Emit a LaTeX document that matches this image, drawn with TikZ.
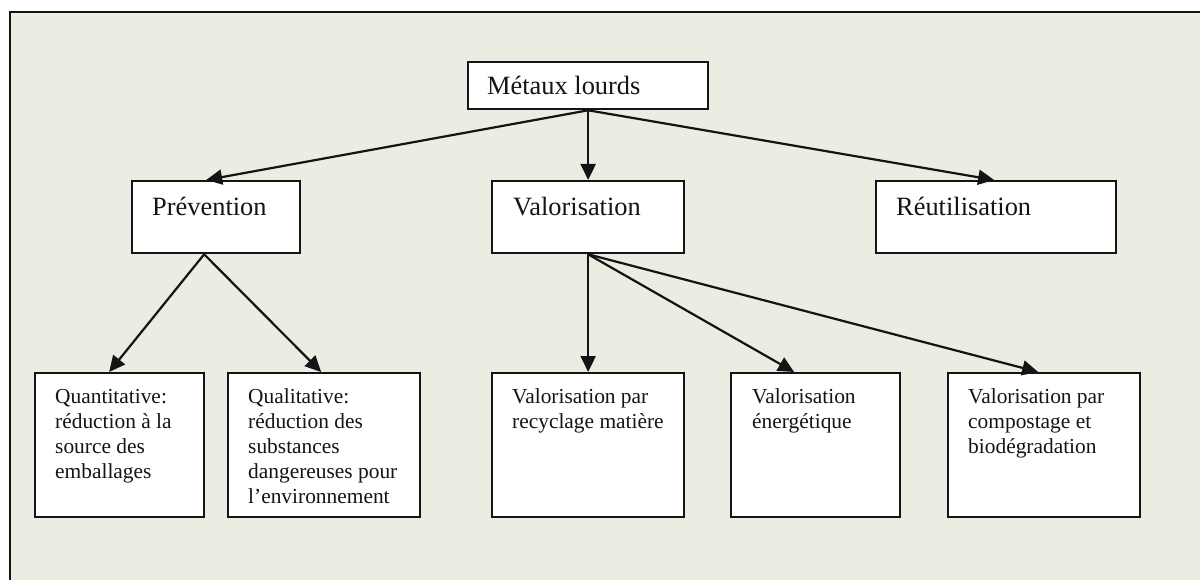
\documentclass[tikz,border=0pt]{standalone}
\usepackage{fontspec}
\setmainfont{Liberation Serif}
\usetikzlibrary{arrows.meta}
\definecolor{paper}{RGB}{236,236,226}
\definecolor{ink}{RGB}{20,20,20}
\begin{document}
\begin{tikzpicture}[x=1pt,y=-1pt,
  box/.style={draw=ink, line width=2.3pt, fill=white, inner sep=0pt, anchor=north west},
  bigtext/.style={font=\fontsize{26.4}{30}\selectfont, text=ink, anchor=base west, inner sep=0pt},
  smalltext/.style={font=\fontsize{21.4}{25}\selectfont, text=ink, align=left, anchor=north west, inner sep=0pt},
  link/.style={draw=ink, line width=2.2pt, -{Triangle[length=16pt,width=15pt]}}]
\useasboundingbox (0,0) rectangle (1200,580);
\fill[white] (0,0) rectangle (1200,580);
\clip (0,0) rectangle (1200,580);
% page frame
\draw[ink, line width=2.3pt, fill=paper] (10,12) rectangle (1220,600);

% top level
\node[box, minimum width=240pt, minimum height=47pt] (metaux) at (467,61) {};
\node[bigtext] (metauxtxt) at ([xshift=20pt,yshift=-34pt]metaux.north west) {Métaux lourds};

% second level
\node[box, minimum width=168pt, minimum height=72pt] (prev) at (131,180) {};
\node[box, minimum width=192pt, minimum height=72pt] (valo) at (491,180) {};
\node[box, minimum width=240pt, minimum height=72pt] (reut) at (875,180) {};
\node[bigtext] (prevtxt) at ([xshift=21pt,yshift=-36pt]prev.north west) {Prévention};
\node[bigtext] (valotxt) at ([xshift=22pt,yshift=-36pt]valo.north west) {Valorisation};
\node[bigtext] (reuttxt) at ([xshift=21pt,yshift=-36pt]reut.north west) {Réutilisation};

% third level
\node[box, minimum width=169pt, minimum height=144pt] (quant) at (34,372) {};
\node[box, minimum width=192pt, minimum height=144pt] (qual) at (227,372) {};
\node[box, minimum width=192pt, minimum height=144pt] (recyc) at (491,372) {};
\node[box, minimum width=169pt, minimum height=144pt] (ener) at (730,372) {};
\node[box, minimum width=192pt, minimum height=144pt] (compo) at (947,372) {};
\node[smalltext] (quanttxt) at ([xshift=21pt,yshift=-16.8pt]quant.north west)
  {Quantitative:\\réduction à la\\source des\\emballages};
\node[smalltext] (qualtxt) at ([xshift=21pt,yshift=-16.8pt]qual.north west)
  {Qualitative:\\réduction des\\substances\\dangereuses pour\\l’environnement};
\node[smalltext] (recyctxt) at ([xshift=21pt,yshift=-16.8pt]recyc.north west)
  {Valorisation par\\recyclage matière};
\node[smalltext] (enertxt) at ([xshift=22pt,yshift=-16.8pt]ener.north west)
  {Valorisation\\énergétique};
\node[smalltext] (compotxt) at ([xshift=21pt,yshift=-16.8pt]compo.north west)
  {Valorisation par\\compostage et\\biodégradation};

% connectors
\draw[link] (metaux.south) -- ([xshift=-10pt]prev.north);
\draw[link] (metaux.south) -- (valo.north);
\draw[link] (metaux.south) -- ([xshift=-2pt]reut.north);
\draw[link] ([xshift=-12pt]prev.south) -- ([xshift=-10.5pt]quant.north);
\draw[link] ([xshift=-12pt]prev.south) -- ([xshift=-3pt]qual.north);
\draw[link] (valo.south) -- (recyc.north);
\draw[link] (valo.south) -- ([xshift=-21.5pt]ener.north);
\draw[link] (valo.south) -- ([xshift=-6pt]compo.north);
\end{tikzpicture}
\end{document}
